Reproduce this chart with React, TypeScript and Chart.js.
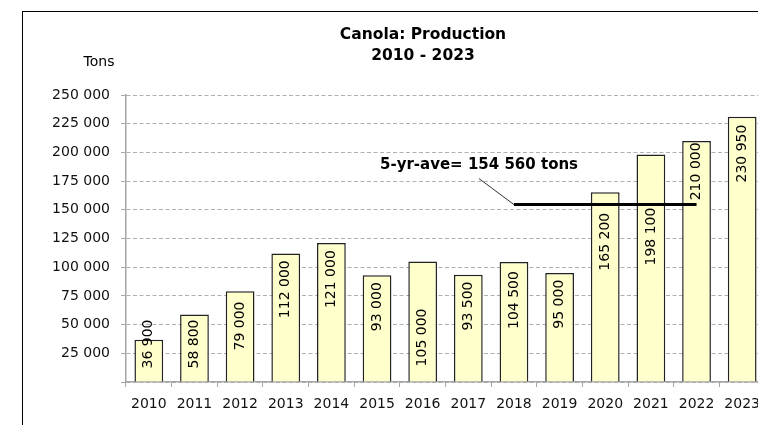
import React, { useEffect, useRef } from 'react';
import { Chart, registerables } from 'chart.js';

Chart.register(...registerables);

// ---- Data ----
const years = ['2010', '2011', '2012', '2013', '2014', '2015', '2016', '2017', '2018', '2019', '2020', '2021', '2022', '2023'];
const production = [36900, 58800, 79000, 112000, 121000, 93000, 105000, 93500, 104500, 95000, 165200, 198100, 210000, 230950];
// value (tons) at which each rotated bar label is centred
const labelAnchor = [33100, 33100, 48800, 80800, 89600, 65600, 38800, 66200, 71400, 67800, 122200, 126700, 183500, 199000];
const averageYears = ['2018', '2019', '2020', '2021', '2022'];
const average5yr = 154560;
const yMax = 250000;
const yStep = 25000;
const titleLines = ['Canola: Production', '2010 - 2023'];
const unitLabel = 'Tons';
const avgLabel = '5-yr-ave= 154 560 tons';

const FONT = '"DejaVu Sans", Verdana, sans-serif';
const fmt = (v: number) => String(v).replace(/\B(?=(\d{3})+(?!\d))/g, ' ');

const decorPlugin = {
  id: 'decor',
  beforeDraw(chart: any) {
    const ctx = chart.ctx;
    ctx.save();
    ctx.fillStyle = '#ffffff';
    ctx.fillRect(0, 0, chart.width, chart.height);
    ctx.strokeStyle = '#000000';
    ctx.lineWidth = 1;
    ctx.strokeRect(22.5, 11.5, chart.width + 50, chart.height + 50);

    // title
    ctx.fillStyle = '#000000';
    ctx.font = `bold 15.5px ${FONT}`;
    ctx.textAlign = 'center';
    ctx.textBaseline = 'middle';
    titleLines.forEach((t, i) => ctx.fillText(t, 423, 34.5 + i * 21));

    // unit label
    ctx.font = `14px ${FONT}`;
    ctx.fillText(unitLabel, 99, 62.5);
    ctx.restore();
  },
  afterDatasetsDraw(chart: any) {
    const ctx = chart.ctx;
    const ys = chart.scales.y;
    const xs = chart.scales.x;
    const meta = chart.getDatasetMeta(1);
    ctx.save();
    ctx.fillStyle = '#000000';
    ctx.font = `14px ${FONT}`;
    ctx.textAlign = 'center';
    ctx.textBaseline = 'middle';
    meta.data.forEach((bar: any, i: number) => {
      ctx.save();
      ctx.translate(bar.x, ys.getPixelForValue(labelAnchor[i]));
      ctx.rotate(-Math.PI / 2);
      ctx.fillText(fmt(production[i]), 0, 0);
      ctx.restore();
    });

    // leader line + annotation
    const x0 = xs.getPixelForValue(years.indexOf(averageYears[0]));
    const y0 = ys.getPixelForValue(average5yr);
    ctx.strokeStyle = '#333333';
    ctx.lineWidth = 1;
    ctx.beginPath();
    ctx.moveTo(x0 - 35, y0 - 26);
    ctx.lineTo(x0, y0);
    ctx.stroke();
    ctx.font = `bold 15px ${FONT}`;
    ctx.textAlign = 'left';
    ctx.fillText(avgLabel, x0 - 134, y0 - 39.5);
    ctx.restore();
  },
};

export default function App() {
  const ref = useRef<HTMLCanvasElement | null>(null);

  useEffect(() => {
    if (!ref.current) return;
    Chart.defaults.font.family = FONT;
    const chart = new Chart(ref.current, {
      type: 'bar',
      data: {
        labels: years,
        datasets: [
          {
            type: 'line',
            label: '5-yr average',
            data: years.map((y) => (averageYears.includes(y) ? average5yr : null)),
            borderColor: '#000000',
            borderWidth: 3,
            pointRadius: 0,
            fill: false,
            spanGaps: false,
            order: 0,
          } as any,
          {
            type: 'bar',
            label: 'Production',
            data: production,
            backgroundColor: '#FFFFCC',
            borderColor: '#222222',
            borderWidth: 1.5,
            barPercentage: 0.63,
            categoryPercentage: 1,
            order: 1,
          } as any,
        ],
      },
      options: {
        responsive: false,
        animation: false,
        devicePixelRatio: 1,
        events: [],
        layout: { padding: { left: 0, right: 25, top: 95, bottom: 0 } },
        plugins: {
          legend: { display: false },
          tooltip: { enabled: false },
          title: { display: false },
        },
        scales: {
          x: {
            type: 'category',
            offset: true,
            grid: {
              offset: true,
              drawOnChartArea: false,
              drawTicks: true,
              tickLength: 5,
              color: '#a6a6a6',
              tickColor: '#a6a6a6',
            },
            border: { color: '#a6a6a6', width: 1.5 },
            ticks: {
              font: { size: 14, family: FONT },
              color: '#111111',
              padding: 9,
              maxRotation: 0,
              autoSkip: false,
            },
            afterFit: (s: any) => {
              s.height = 43;
            },
          },
          y: {
            min: 0,
            max: yMax,
            ticks: {
              stepSize: yStep,
              callback: (v: any) => (Number(v) === 0 ? '' : fmt(Number(v))),
              font: { size: 14, family: FONT },
              color: '#111111',
              padding: 11,
            },
            grid: {
              color: '#b0b0b0',
              tickColor: '#a6a6a6',
              tickLength: 5,
              lineWidth: 1,
            },
            border: { color: '#a6a6a6', width: 1.5, dash: [4, 2.5] },
            afterFit: (s: any) => {
              s.width = 126;
            },
          },
        },
      } as any,
      plugins: [decorPlugin],
    });
    return () => chart.destroy();
  }, []);

  return (
    <div
      style={{
        position: 'absolute',
        left: 0,
        top: 0,
        width: 758,
        height: 425,
        overflow: 'hidden',
        background: '#ffffff',
      }}
    >
      <canvas ref={ref} width={790} height={425} style={{ display: 'block', width: 790, height: 425 }} />
    </div>
  );
}
